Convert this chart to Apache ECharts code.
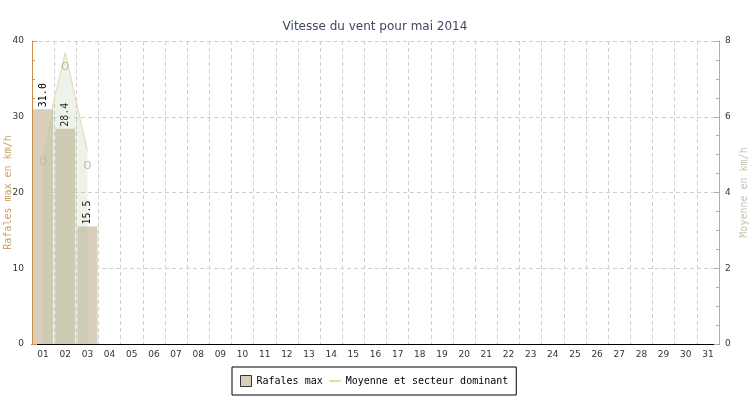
<!DOCTYPE html>
<html>
<head>
<meta charset="utf-8">
<script src="https://cdn.jsdelivr.net/npm/echarts@6/dist/echarts.min.js"></script>
<style>
  html, body { margin: 0; padding: 0; background: #fff; }
  #chart { width: 750px; height: 400px; }
</style>
</head>
<body>
<div id="chart"></div>
<script>
// jours du mois
const days = ['01','02','03','04','05','06','07','08','09','10','11','12','13','14','15','16',
  '17','18','19','20','21','22','23','24','25','26','27','28','29','30','31']
// rafales max (km/h)
const gusts = [31.0, 28.4, 15.5]
// vent moyen (km/h)
const meanWind = [5.2, 7.7, 5.1]
// secteur dominant
const sectors = ['O', 'O', 'O']

const mono = 'DejaVu Sans Mono'

const chart = echarts.init(document.getElementById('chart'))

const option = {
  animation: false,
  title: {
    text: 'Vitesse du vent pour mai 2014',
    left: 'center',
    top: 16,
    textStyle: { fontFamily: 'DejaVu Sans', fontSize: 12, fontWeight: 'normal', color: '#3d4766' }
  },
  legend: {
    left: 232,
    top: 367,
    padding: [8, 8],
    itemGap: 6,
    itemWidth: 11,
    itemHeight: 11,
    borderColor: '#000',
    borderWidth: 1,
    borderRadius: 0,
    textStyle: { fontFamily: mono, fontSize: 10, color: '#000' },
    data: [
      { name: 'Rafales max', icon: 'rect', itemStyle: { borderColor: '#333', borderWidth: 1 } },
      { name: 'Moyenne et secteur dominant', itemStyle: { color: 'transparent', borderWidth: 0 } }
    ]
  },
  grid: { left: 32, right: 31, top: 41, bottom: 56, containLabel: false, outerBoundsMode: 'none' },
  xAxis: {
    type: 'category',
    data: days,
    axisLine: { lineStyle: { color: '#000' } },
    axisTick: { inside: true, length: 4, lineStyle: { color: '#000' } },
    axisLabel: { fontFamily: 'DejaVu Sans', fontSize: 9, color: '#333', margin: 6 },
    splitLine: { show: true, lineStyle: { color: '#cfcfcf', type: [4, 3] } }
  },
  yAxis: [
    {
      type: 'value',
      min: 0,
      max: 40,
      interval: 10,
      name: 'Rafales max en km/h',
      nameLocation: 'middle',
      nameGap: 19,
      nameMoveOverlap: false,
      nameTextStyle: { fontFamily: mono, fontSize: 10, color: '#c8a06a' },
      axisLine: { show: true, lineStyle: { color: '#c8914a' } },
      axisTick: { show: true, inside: true, length: 5, lineStyle: { color: '#c8914a' } },
      minorTick: { show: true, splitNumber: 4, length: 3, lineStyle: { color: '#c8914a' } },
      axisLabel: { fontFamily: 'DejaVu Sans', fontSize: 9, color: '#333', margin: 8 },
      splitLine: { show: true, lineStyle: { color: '#cfcfcf', type: [4, 3] } }
    },
    {
      type: 'value',
      min: 0,
      max: 8,
      interval: 2,
      position: 'right',
      name: 'Moyenne en km/h',
      nameLocation: 'middle',
      nameGap: 20,
      nameMoveOverlap: false,
      nameTextStyle: { fontFamily: mono, fontSize: 10, color: '#c8c0b0' },
      axisLine: { show: true, lineStyle: { color: '#b8ae9c' } },
      axisTick: { show: true, inside: true, length: 5, lineStyle: { color: '#b8ae9c' } },
      minorTick: { show: true, splitNumber: 4, length: 3, lineStyle: { color: '#b8ae9c' } },
      axisLabel: { fontFamily: 'DejaVu Sans', fontSize: 9, color: '#333', margin: 6 },
      splitLine: { show: false }
    }
  ],
  series: [
    {
      name: 'Rafales max',
      type: 'bar',
      yAxisIndex: 0,
      data: gusts,
      barCategoryGap: '9%',
      itemStyle: { color: '#d9cdbb' },
      label: {
        show: true,
        position: 'top',
        rotate: 90,
        align: 'left',
        verticalAlign: 'middle',
        distance: 2,
        fontFamily: mono,
        fontSize: 10,
        color: '#000',
        formatter: p => p.value.toFixed(1)
      }
    },
    {
      name: 'Moyenne et secteur dominant',
      type: 'line',
      yAxisIndex: 1,
      data: meanWind,
      symbol: 'circle',
      symbolSize: 1,
      lineStyle: { color: '#e6d8aa', width: 1 },
      itemStyle: { color: 'rgba(0,0,0,0)' },
      areaStyle: { color: 'rgb(165,195,150)', opacity: 0.2 },
      label: {
        show: true,
        position: 'bottom',
        distance: 10,
        fontFamily: 'DejaVu Sans',
        fontSize: 10,
        color: '#c4b89c',
        formatter: p => sectors[p.dataIndex]
      }
    }
  ]
}

chart.setOption(option)
</script>
</body>
</html>
